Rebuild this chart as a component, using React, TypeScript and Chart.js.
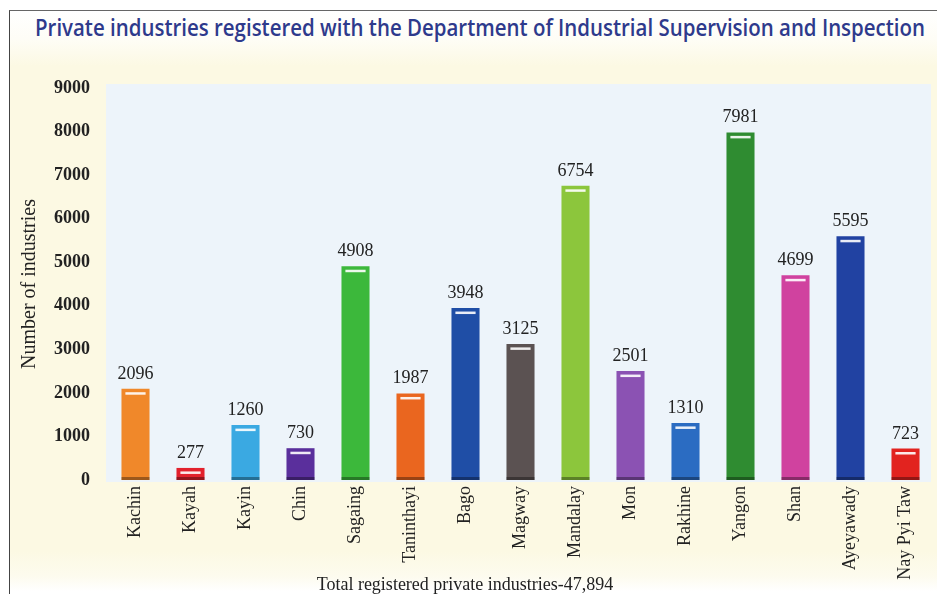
import React, { useEffect, useLayoutEffect, useRef } from "react";
import { Chart, registerables } from "chart.js";

Chart.register(...registerables);

const chartTitle =
  "Private industries registered with the Department of Industrial Supervision and Inspection";
const footerText = "Total registered private industries-47,894";
const yAxisTitle = "Number of industries";

const regions = [
  "Kachin",
  "Kayah",
  "Kayin",
  "Chin",
  "Sagaing",
  "Taninthayi",
  "Bago",
  "Magway",
  "Mandalay",
  "Mon",
  "Rakhine",
  "Yangon",
  "Shan",
  "Ayeyawady",
  "Nay Pyi Taw",
];

const industries = [2096, 277, 1260, 730, 4908, 1987, 3948, 3125, 6754, 2501, 1310, 7981, 4699, 5595, 723];

const barColors = [
  "#f0882a",
  "#e2212c",
  "#3aa9e2",
  "#5a2f9c",
  "#3cb83b",
  "#ea661f",
  "#1f4ea6",
  "#5b5252",
  "#8cc63c",
  "#8b52b3",
  "#2b6cc2",
  "#2f8c31",
  "#d0429f",
  "#2142a2",
  "#e2231f",
];

const yTickValues = [0, 1000, 2000, 3000, 4000, 5000, 6000, 7000, 8000, 9000];

const SERIF = "'Liberation Serif', 'Times New Roman', serif";

const plotBackground = {
  id: "plotBackground",
  beforeDraw(chart: any) {
    const { ctx, chartArea } = chart;
    ctx.save();
    ctx.fillStyle = "#edf4fa";
    ctx.fillRect(chartArea.left - 2, chartArea.top - 4, chartArea.right - chartArea.left + 0, chartArea.bottom - chartArea.top + 6);
    ctx.restore();
  },
};

const barDecor = {
  id: "barDecor",
  afterDatasetsDraw(chart: any) {
    const { ctx } = chart;
    const meta = chart.getDatasetMeta(0);
    const data = chart.data.datasets[0].data as number[];
    ctx.save();
    meta.data.forEach((el: any, i: number) => {
      const w = el.width;
      const left = el.x - w / 2;
      // dark base
      ctx.fillStyle = "rgba(0,0,0,0.35)";
      ctx.fillRect(left, el.base - 3, w, 3);
      // top highlight
      ctx.fillStyle = "rgba(255,255,255,0.9)";
      ctx.fillRect(el.x - w * 0.36, el.y + 3.5, w * 0.72, 2.5);
      // value label
      ctx.fillStyle = "#222";
      ctx.font = `18px ${SERIF}`;
      ctx.textAlign = "center";
      ctx.textBaseline = "alphabetic";
      ctx.fillText(String(data[i]), el.x, el.y - 10);
    });
    ctx.restore();
  },
};

export default function App() {
  const canvasRef = useRef<HTMLCanvasElement | null>(null);
  const titleRef = useRef<HTMLDivElement | null>(null);

  useLayoutEffect(() => {
    const t = titleRef.current;
    if (t) {
      t.style.transform = "none";
      const w = t.scrollWidth;
      const s = 890 / w;
      t.style.transform = `scaleX(${s})`;
    }
  }, []);

  useEffect(() => {
    const canvas = canvasRef.current;
    if (!canvas) return;
    const chart = new Chart(canvas, {
      type: "bar",
      data: {
        labels: regions,
        datasets: [
          {
            data: industries,
            backgroundColor: barColors,
            borderWidth: 0,
            barPercentage: 0.51,
            categoryPercentage: 1,
          },
        ],
      },
      options: {
        responsive: false,
        animation: false,
        layout: { padding: { top: 88, right: 4, bottom: 0, left: 0 } },
        plugins: {
          legend: { display: false },
          tooltip: { enabled: false },
        },
        scales: {
          x: {
            grid: { display: false, drawTicks: false },
            border: { display: false },
            ticks: {
              autoSkip: false,
              maxRotation: 90,
              minRotation: 90,
              padding: 6,
              color: "#222",
              font: { family: SERIF, size: 18 },
            },
            afterFit(scale: any) {
              scale.height = 114;
            },
          },
          y: {
            min: 0,
            max: 9000,
            grid: { display: false, drawTicks: false },
            border: { display: false },
            afterBuildTicks(scale: any) {
              scale.ticks = yTickValues.map((v) => ({ value: v }));
            },
            ticks: {
              padding: 18,
              color: "#222",
              font: { family: SERIF, size: 18, weight: "bold" },
              callback: (v: any) => String(v),
            },
            title: {
              display: true,
              text: yAxisTitle,
              color: "#222",
              font: { family: SERIF, size: 20 },
              padding: { top: 18, bottom: 0 },
            },
            afterFit(scale: any) {
              scale.width = 108;
            },
          },
        },
      },
      plugins: [plotBackground, barDecor],
    });
    return () => chart.destroy();
  }, []);

  return (
    <div
      style={{
        position: "absolute",
        left: 0,
        top: 0,
        width: 937,
        height: 594,
        overflow: "hidden",
        background: "#ffffff",
      }}
    >
      <div
        style={{
          position: "absolute",
          left: 9,
          top: 10,
          width: 928,
          height: 584,
          borderTop: "1.5px solid #666",
          borderLeft: "1.5px solid #444",
          boxSizing: "border-box",
          background:
            "linear-gradient(to bottom, #ffffff 0px, #fefdf6 28px, #fcf9e3 55px, #fcf9e3 540px, #fdfbee 565px, #ffffff 580px)",
        }}
      />
      <div
        ref={titleRef}
        style={{
          position: "absolute",
          left: 35,
          top: 11,
          whiteSpace: "nowrap",
          transformOrigin: "left top",
          fontFamily: "'Open Sans', sans-serif",
          fontWeight: 600,
          fontSize: 24,
          lineHeight: "32px",
          color: "#2e3a8c",
        }}
      >
        {chartTitle}
      </div>
      <canvas
        ref={canvasRef}
        width={937}
        height={594}
        style={{ position: "absolute", left: 0, top: 0, width: 937, height: 594 }}
      />
      <div
        style={{
          position: "absolute",
          left: 0,
          top: 573,
          width: 930,
          textAlign: "center",
          fontFamily: SERIF,
          fontSize: 18,
          lineHeight: "22px",
          color: "#222",
          whiteSpace: "nowrap",
        }}
      >
        {footerText}
      </div>
    </div>
  );
}
